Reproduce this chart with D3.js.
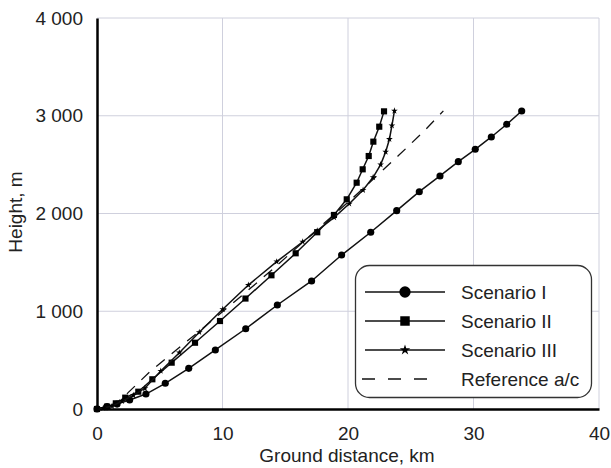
<!DOCTYPE html>
<html>
<head>
<meta charset="utf-8">
<script src="https://cdn.jsdelivr.net/npm/d3@7"></script>
<style>
  body { margin: 0; background: #fff; }
  text { font-family: "Liberation Sans", Arial, sans-serif; fill: #222; }
</style>
</head>
<body>
<svg id="chart" width="611" height="468"></svg>
<script>
// ground distance (km), height (m)
const scen1 = [[0,0],[0.8,24],[1.6,50],[2.6,92],[3.9,153],[5.44,263],[7.31,416],[9.43,604],
  [11.85,821],[14.37,1064],[17.1,1310],[19.49,1575],[21.81,1808],[23.88,2029],[25.68,2223],
  [27.33,2384],[28.79,2530],[30.14,2657],[31.42,2783],[32.65,2913],[33.84,3049]];
const scen2 = [[0,0],[0.8,24],[1.5,58],[2.25,116],[3.29,177],[4.41,304],[5.95,474],[7.81,678],
  [9.8,900],[11.83,1130],[13.9,1368],[15.83,1593],[17.55,1808],[18.88,1985],[19.9,2145],
  [20.69,2315],[21.17,2452],[21.65,2588],[22.02,2735],[22.49,2888],[22.87,3045]];
const scen3 = [[0,0],[0.5,10],[1.2,30],[2,80],[2.9,140],[3.82,212],[5.08,389],[6.56,576],
  [8.15,785],[10.02,1020],[12.06,1268],[14.32,1507],[16.39,1711],[17.55,1824],[18.9,1960],
  [20.1,2100],[21.2,2240],[22.0,2370],[22.6,2500],[23.0,2630],[23.3,2760],[23.5,2900],[23.7,3050]];
const refAc = [[1.2,20],[2.5,170],[4.2,380],[6,570],[8,780],[10,995],[12,1210],[14,1430],
  [16,1660],[18,1890],[20,2115],[22,2350],[24,2590],[26,2835],[27.6,3050]];

const xTicks = [0, 10, 20, 30, 40];
const yTicks = [0, 1000, 2000, 3000, 4000];
const legendNames = ["Scenario I", "Scenario II", "Scenario III", "Reference a/c"];

const svg = d3.select("#chart");
const x = d3.scaleLinear().domain([0, 40]).range([97, 599]);
const y = d3.scaleLinear().domain([0, 4000]).range([409, 18]);
const fmt = v => d3.format(",")(v).replace(/,/g, " ");

// grid
svg.append("g").selectAll("line.v").data(xTicks.slice(1)).join("line")
  .attr("x1", d => x(d)).attr("x2", d => x(d))
  .attr("y1", y(0)).attr("y2", y(4000))
  .attr("stroke", "#cfd0dd").attr("stroke-width", 1);
svg.append("g").selectAll("line.h").data(yTicks.slice(1)).join("line")
  .attr("x1", x(0)).attr("x2", x(40))
  .attr("y1", d => y(d)).attr("y2", d => y(d))
  .attr("stroke", "#cfd0dd").attr("stroke-width", 1);

// axes
const xAxis = svg.append("g").attr("transform", `translate(0,${y(0)})`)
  .call(d3.axisBottom(x).tickValues(xTicks).tickSize(0).tickPadding(18).tickFormat(fmt));
const yAxis = svg.append("g").attr("transform", `translate(${x(0)},0)`)
  .call(d3.axisLeft(y).tickValues(yTicks).tickSize(0).tickPadding(14).tickFormat(fmt));
[xAxis, yAxis].forEach(a => {
  a.select(".domain").attr("stroke", "#000").attr("stroke-width", 2.5);
  a.selectAll("text").attr("font-size", 19).style("font-family", "Liberation Sans, Arial, sans-serif")
    .style("fill", "#222");
});

svg.append("text").attr("x", 347).attr("y", 462).attr("text-anchor", "middle")
  .attr("font-size", 19).text("Ground distance, km");
svg.append("text").attr("transform", "translate(22,212) rotate(-90)")
  .attr("text-anchor", "middle").attr("font-size", 19).text("Height, m");

const line = d3.line().x(d => x(d[0])).y(d => y(d[1]));

// reference aircraft
svg.append("path").datum(refAc).attr("d", line)
  .attr("fill", "none").attr("stroke", "#111").attr("stroke-width", 1.3)
  .attr("stroke-dasharray", "11,9");

const series = [
  {data: scen1, sym: d3.symbolCircle, size: 40, lsize: 100},
  {data: scen2, sym: d3.symbolSquare, size: 38, lsize: 90},
  {data: scen3, sym: d3.symbolStar, size: 14, lsize: 34}
];
series.forEach(s => {
  svg.append("path").datum(s.data).attr("d", line)
    .attr("fill", "none").attr("stroke", "#111").attr("stroke-width", 1.5);
  svg.append("g").selectAll("path").data(s.data).join("path")
    .attr("transform", d => `translate(${x(d[0])},${y(d[1])})`)
    .attr("d", d3.symbol().type(s.sym).size(s.size))
    .attr("fill", "#000");
});

// legend
const lg = svg.append("g");
lg.append("rect").attr("x", 355.5).attr("y", 265.5).attr("width", 236).attr("height", 132)
  .attr("rx", 14).attr("fill", "#fff").attr("stroke", "#333").attr("stroke-width", 1.3);
legendNames.forEach((name, i) => {
  const ly = 292 + i * 29;
  if (i < 3) {
    lg.append("line").attr("x1", 365).attr("x2", 445).attr("y1", ly).attr("y2", ly)
      .attr("stroke", "#111").attr("stroke-width", 1.5);
    lg.append("path").attr("transform", `translate(405,${ly})`)
      .attr("d", d3.symbol().type(series[i].sym).size(series[i].lsize)).attr("fill", "#000");
  } else {
    lg.append("line").attr("x1", 362).attr("x2", 438).attr("y1", ly).attr("y2", ly)
      .attr("stroke", "#111").attr("stroke-width", 1.3).attr("stroke-dasharray", "13,13");
  }
  lg.append("text").attr("x", 461).attr("y", ly + 7).attr("font-size", 19).text(name);
});
</script>
</body>
</html>
